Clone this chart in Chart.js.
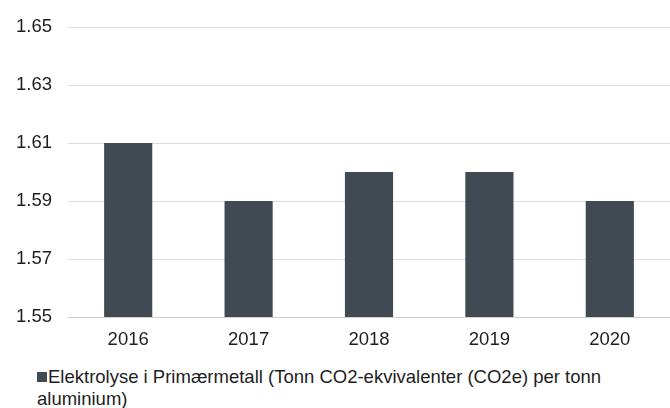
<!DOCTYPE html>
<html>
<head>
<meta charset="utf-8">
<script src="https://cdn.jsdelivr.net/npm/chart.js@4/dist/chart.umd.min.js"></script>
<style>
  html, body { margin: 0; padding: 0; background: #fff; }
  #wrap { position: relative; width: 670px; height: 408px; }
  #box { position: absolute; left: 0; top: 0; width: 670px; height: 360px; }
  #legend {
    position: absolute; left: 37px; top: 366px; width: 590px;
    font-family: "Liberation Sans", Arial, sans-serif; font-size: 18.5px;
    line-height: 22px; color: #1e1e1e;
  }
  #legend .sq {
    display: inline-block; width: 10px; height: 10px; background: #414a53;
    margin-right: 1px; vertical-align: 1px;
  }
</style>
</head>
<body>
<div id="wrap">
  <div id="box"><canvas id="grafico"></canvas></div>
  <div id="legend"></div>
</div>
<script>
// ======= Dados =======
const anos = ['2016', '2017', '2018', '2019', '2020'];
const utslipp = [1.61, 1.59, 1.60, 1.60, 1.59];
const yTicks = [1.55, 1.57, 1.59, 1.61, 1.63, 1.65];
const serieNavn = 'Elektrolyse i Primærmetall (Tonn CO2-ekvivalenter (CO2e) per tonn aluminium)';

const fonte = { family: '"Liberation Sans", Arial, sans-serif', size: 18.5 };
const corBarra = '#414a53';

// ======= Legenda em HTML (quebra de linha) =======
document.getElementById('legend').innerHTML =
  '<span class="sq"></span>' + serieNavn;

// ======= Gráfico =======
new Chart(document.getElementById('grafico'), {
  type: 'bar',
  data: {
    labels: anos,
    datasets: [{
      label: serieNavn,
      data: utslipp,
      backgroundColor: corBarra,
      categoryPercentage: 1,
      barPercentage: 0.4
    }]
  },
  options: {
    responsive: true,
    maintainAspectRatio: false,
    animation: false,
    layout: { padding: { top: 13, right: 0, left: 0, bottom: 0 } },
    plugins: { legend: { display: false }, tooltip: { enabled: false } },
    scales: {
      x: {
        grid: { display: false, drawTicks: false },
        border: { display: false },
        ticks: { color: '#1e1e1e', font: fonte, padding: 12 },
        afterFit: s => { s.height = 43; }
      },
      y: {
        min: 1.55,
        max: 1.65,
        afterBuildTicks: s => { s.ticks = yTicks.map(v => ({ value: v })); },
        grid: {
          color: ctx => ctx.tick && ctx.tick.value === 1.55 ? '#cfcfcf' : '#dedede',
          lineWidth: 1,
          drawTicks: false
        },
        border: { display: false },
        ticks: {
          color: '#1e1e1e', font: fonte, padding: 16,
          callback: v => v.toFixed(2)
        },
        afterFit: s => { s.width = 68; }
      }
    }
  }
});
</script>
</body>
</html>
